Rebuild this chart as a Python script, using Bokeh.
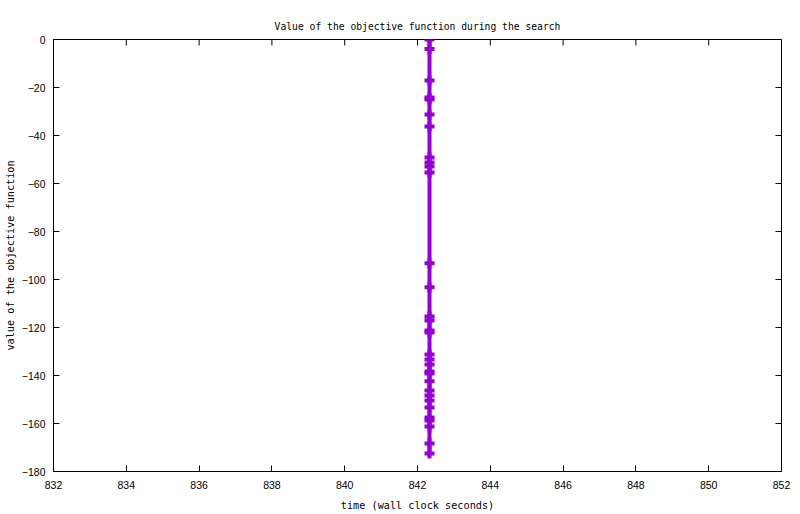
import math
from bokeh.plotting import figure
from bokeh.models import Range1d, FixedTicker
from bokeh.embed import file_html
from bokeh.resources import INLINE

# wall clock time of each evaluation and the objective value found
times = [842.33] * 32
values = [0, -4, -17.1, -24.2, -25, -31.2, -36.2, -49.2, -51.2, -52.9, -55.4,
          -93.2, -103.2, -115.4, -117.1, -121.2, -122.1, -131.2, -133.3, -135.4,
          -138.3, -139.2, -142.4, -146.3, -148.3, -150.4, -153.3, -157.5, -158.8,
          -161.2, -168.3, -172.5]

x_ticks = [832, 834, 836, 838, 840, 842, 844, 846, 848, 850, 852]
y_ticks = [-180, -160, -140, -120, -100, -80, -60, -40, -20, 0]

mono = "DejaVu Sans Mono"
sans = "Liberation Sans"
purple = "#9400d3"

p = figure(title="Value of the objective function during the search",
           x_axis_label="time (wall clock seconds)",
           y_axis_label="value of the objective function",
           width=800, height=514,
           x_range=Range1d(832, 852), y_range=Range1d(-180, 0),
           output_backend="svg", toolbar_location=None,
           min_border_left=53, min_border_right=19,
           min_border_top=39, min_border_bottom=43)

p.title.align = "center"
p.title.text_font = mono
p.title.text_font_size = "9.7px"
p.title.text_font_style = "normal"
p.title.text_color = "black"
p.title.standoff = 16

p.grid.visible = False
p.outline_line_color = "black"
p.outline_line_alpha = 1
p.background_fill_color = "white"
p.border_fill_color = "white"

for ax, ticks in ((p.xaxis[0], x_ticks), (p.yaxis[0], y_ticks)):
    ax.ticker = FixedTicker(ticks=ticks)
    ax.major_tick_in = 6
    ax.major_tick_out = 0
    ax.minor_tick_in = 0
    ax.minor_tick_out = 0
    ax.axis_line_color = "black"
    ax.major_tick_line_color = "black"
    ax.major_label_text_font = sans
    ax.major_label_text_font_size = "10.5px"
    ax.major_label_text_color = "black"
    ax.axis_label_text_font = mono
    ax.axis_label_text_font_size = "10.2px"
    ax.axis_label_text_font_style = "normal"
    ax.axis_label_text_color = "black"

p.xaxis[0].major_label_standoff = 9
p.xaxis[0].axis_label_standoff = 8
p.yaxis[0].major_label_standoff = 8
p.yaxis[0].axis_label_standoff = 3

# mirrored ticks on the top and right borders (half of each dash is clipped)
p.scatter(x_ticks, [0] * len(x_ticks), marker="dash", size=12, angle=math.pi / 2,
          line_color="black", line_width=1)
p.scatter([852] * len(y_ticks), y_ticks, marker="dash", size=12,
          line_color="black", line_width=1)

p.line(times, values, line_width=4, color=purple)
p.scatter(times, values, marker="cross", size=10, line_width=4, color=purple)

open("out.html", "w").write(file_html(p, INLINE))
